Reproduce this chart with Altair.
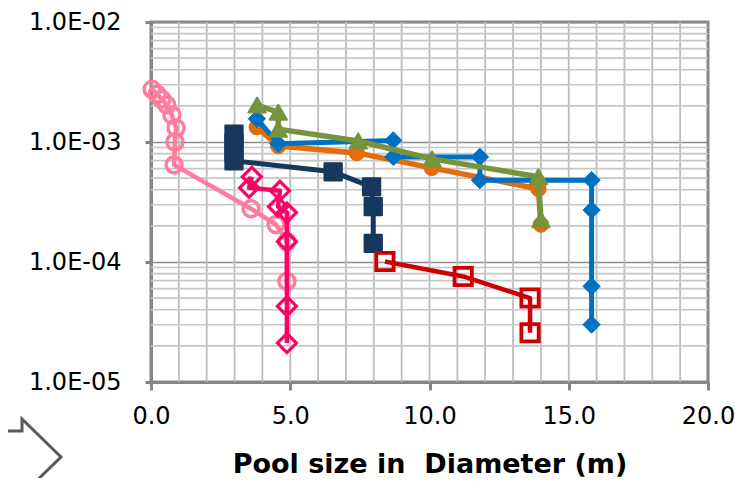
import altair as alt
import pandas as pd

# ---------------- data ----------------
x_ticks = [0, 5, 10, 15, 20]
y_ticks = [1e-5, 1e-4, 1e-3, 1e-2]
x_minor = list(range(1, 20))
y_minor = [m * 10.0 ** e for e in (-5, -4, -3) for m in range(2, 10)]

pink_x = [0.04, 0.22, 0.39, 0.57, 0.75, 0.90, 0.86, 0.83, 3.59, 4.49, 4.88, 4.88]
pink_y = [2.75e-3, 2.50e-3, 2.27e-3, 2.03e-3, 1.68e-3, 1.31e-3, 1.0e-3, 6.45e-4,
          2.78e-4, 2.05e-4, 1.48e-4, 6.9e-5]

magenta_x = [3.62, 3.52, 4.63, 4.56, 4.88, 4.88, 4.88, 4.88]
magenta_y = [5.13e-4, 4.15e-4, 3.92e-4, 2.89e-4, 2.58e-4, 1.48e-4, 4.28e-5, 2.11e-5]

navy_x = [2.98, 2.98, 2.98, 2.98, 6.54, 7.92, 7.98, 7.98]
navy_y = [1.16e-3, 9.8e-4, 8.26e-4, 6.96e-4, 5.64e-4, 4.23e-4, 2.89e-4, 1.43e-4]

red_x = [8.40, 11.21, 13.61, 13.61]
red_y = [1.01e-4, 7.58e-5, 5.01e-5, 2.57e-5]

orange_x = [3.80, 4.57, 7.39, 10.08, 13.91, 14.00]
orange_y = [1.33e-3, 9.27e-4, 8.11e-4, 6.09e-4, 4.07e-4, 2.05e-4]

blue_x = [3.80, 4.57, 8.70, 8.70, 11.81, 11.81, 15.82, 15.82, 15.82, 15.82]
blue_y = [1.56e-3, 9.68e-4, 1.03e-3, 7.51e-4, 7.51e-4, 4.81e-4, 4.81e-4, 2.71e-4,
          6.27e-5, 3.01e-5]

green_x = [3.81, 4.57, 4.57, 7.44, 10.09, 13.91, 14.00]
green_y = [2.03e-3, 1.77e-3, 1.28e-3, 1.02e-3, 7.23e-4, 5.13e-4, 2.25e-4]

# ---------------- styles ----------------
styles = [
    # name, xs, ys, color, shape, filled, size, marker stroke, line width
    ("pink", pink_x, pink_y, "#FF7C9F", "circle", False, 256, 3.5, 4.5),
    ("magenta", magenta_x, magenta_y, "#FF0066", "diamond", False, 360, 3.2, 4.5),
    ("navy", navy_x, navy_y, "#17375E", "square", True, 300, 2, 5),
    ("red", red_x, red_y, "#CC0000", "square", False, 300, 3.8, 4.5),
    ("orange", orange_x, orange_y, "#E46C0A", "circle", True, 240, 1, 5.5),
    ("blue", blue_x, blue_y, "#0070C0", "diamond", True, 300, 1, 5),
    ("green", green_x, green_y, "#77933C", "triangle-up", True, 300, 2, 5.5),
]

xscale = alt.Scale(domain=[0, 20], nice=False, zero=False)
yscale = alt.Scale(type="log", domain=[1e-5, 1e-2], nice=False)

xaxis = alt.Axis(
    values=x_ticks, format=".1f", grid=False, labelFlush=False,
    title="Pool size in \u00a0Diameter (m)",
    titleFont="DejaVu Sans", titleFontSize=27, titleFontWeight="bold",
    titleColor="#000000", titleBaseline="middle", titleY=82,
    labelPadding=14, tickSize=8,
)
yaxis = alt.Axis(
    values=y_ticks, grid=True, gridColor="#8C8C8C", gridWidth=1.5, labelFlush=False,
    labelExpr="'1.0E-0' + toString(-round(log(datum.value)/LN10))",
    title=None, labelPadding=24, tickSize=6,
)


def X(field):
    return alt.X(field, type="quantitative", scale=xscale, axis=xaxis)


def Y(field):
    return alt.Y(field, type="quantitative", scale=yscale, axis=yaxis)


grid_v = alt.Chart(pd.DataFrame({"x": x_minor})).mark_rule(
    color="#BDBDBD", strokeWidth=1.8).encode(x=X("x"))
grid_h = alt.Chart(pd.DataFrame({"y": y_minor})).mark_rule(
    color="#C6C6C6", strokeWidth=1.6).encode(y=Y("y"))

layers = [grid_v, grid_h]
for name, xs, ys, color, shape, filled, size, msw, lw in styles:
    df = pd.DataFrame({"x": xs, "y": ys, "i": list(range(len(xs)))})
    base = alt.Chart(df)
    layers.append(base.mark_line(color=color, strokeWidth=lw, strokeJoin="round").encode(
        x=X("x"), y=Y("y"), order="i:Q"))
    if filled:
        pt = base.mark_point(shape=shape, size=size, filled=True, fill=color,
                             stroke=color, strokeWidth=msw, strokeJoin="round", opacity=1)
    else:
        pt = base.mark_point(shape=shape, size=size, filled=False, stroke=color,
                             strokeWidth=msw, opacity=1)
    layers.append(pt.encode(x=X("x"), y=Y("y")))

arrow = alt.Chart(pd.DataFrame({"a": [0]})).mark_point(
    shape="M-0.7,-0.26L0,-0.26L0,-0.38L0.39,0L0,0.38L0,0.26L-0.7,0.26Z",
    size=40000, filled=False, stroke="#595959", strokeWidth=3, opacity=1,
).encode(x=alt.value(-129), y=alt.value(435))
layers.append(arrow)

chart = alt.layer(*layers).properties(
    width=557, height=360,
    autosize=alt.AutoSizeParams(type="none"),
    padding={"left": 143, "top": 14, "right": 33, "bottom": 96},
).configure_view(
    stroke="#868686", strokeWidth=3
).configure_axis(
    labelFont="DejaVu Sans", labelFontSize=24, labelColor="#000000",
    domainColor="#868686", domainWidth=3, tickColor="#868686", tickWidth=3,
)

chart.save("out.html", embed_options={"renderer": "svg", "actions": False})
